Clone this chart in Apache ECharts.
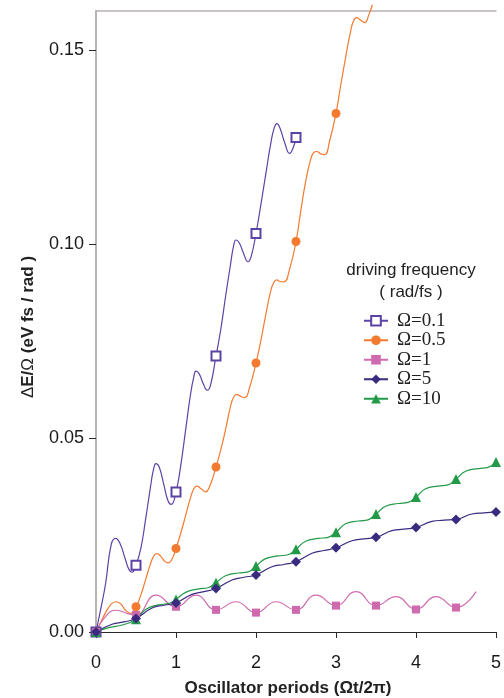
<!DOCTYPE html>
<html><head><meta charset="utf-8">
<script src="https://cdn.jsdelivr.net/npm/echarts@6/dist/echarts.min.js"></script>
<style>html,body{margin:0;padding:0;background:#fff}#c{width:504px;height:698px}</style>
</head><body><div id="c"></div>
<script>
// ---- data ----
const seriesNames = ['Ω=0.1', 'Ω=0.5', 'Ω=1', 'Ω=5', 'Ω=10'];

const xW01 = [0, 0.06, 0.12, 0.19, 0.245, 0.30, 0.36, 0.41, 0.45, 0.5,
  0.56, 0.62, 0.68, 0.72, 0.75, 0.79, 0.85, 0.90, 0.94, 1.0,
  1.06, 1.12, 1.18, 1.22, 1.25, 1.29, 1.34, 1.39, 1.43, 1.5,
  1.56, 1.62, 1.68, 1.72, 1.75, 1.79, 1.84, 1.9, 1.94, 2.0,
  2.06, 2.13, 2.19, 2.23, 2.26, 2.30, 2.36, 2.42, 2.46, 2.5];
const yW01 = [0, 0.0060, 0.0125, 0.0225, 0.0241, 0.0228, 0.0192, 0.0162, 0.0154, 0.0172,
  0.0215, 0.0290, 0.0372, 0.0420, 0.0434, 0.0425, 0.0378, 0.0338, 0.0329, 0.0361,
  0.0430, 0.0520, 0.0610, 0.0655, 0.0672, 0.0665, 0.0640, 0.0623, 0.0635, 0.0711,
  0.0780, 0.0865, 0.0945, 0.0995, 0.1010, 0.1003, 0.0978, 0.0954, 0.0968, 0.1027,
  0.1100, 0.1190, 0.1265, 0.1300, 0.1310, 0.1298, 0.1260, 0.1233, 0.1245, 0.1274];

const xW05 = [0, 0.06, 0.12, 0.19, 0.25, 0.31, 0.37, 0.43, 0.5,
  0.56, 0.62, 0.68, 0.72, 0.76, 0.81, 0.86, 0.9, 0.95, 1.0,
  1.06, 1.12, 1.18, 1.22, 1.26, 1.31, 1.37, 1.42, 1.5,
  1.56, 1.62, 1.68, 1.72, 1.76, 1.81, 1.86, 1.92, 2.0,
  2.06, 2.12, 2.18, 2.22, 2.26, 2.30, 2.35, 2.42, 2.5,
  2.56, 2.62, 2.68, 2.72, 2.76, 2.81, 2.86, 2.92, 3.0,
  3.06, 3.12, 3.18, 3.22, 3.26, 3.31, 3.36, 3.41, 3.455];
const yW05 = [0, 0.0025, 0.0050, 0.0072, 0.0078, 0.0072, 0.0056, 0.0048, 0.0065,
  0.0095, 0.0135, 0.0175, 0.0195, 0.0202, 0.0195, 0.0182, 0.0178, 0.0188, 0.0215,
  0.0255, 0.0300, 0.0345, 0.0368, 0.0376, 0.0370, 0.0361, 0.0375, 0.0425,
  0.0470, 0.0522, 0.0580, 0.0605, 0.0612, 0.0607, 0.0604, 0.0630, 0.0693,
  0.0750, 0.0815, 0.0875, 0.0900, 0.0907, 0.0903, 0.0902, 0.0935, 0.1006,
  0.1085, 0.1160, 0.1215, 0.1235, 0.1238, 0.1232, 0.1230, 0.1265, 0.1336,
  0.1410, 0.1480, 0.1545, 0.1575, 0.1583, 0.1576, 0.1570, 0.1590, 0.1616];

const xW1 = [0, 0.1, 0.25, 0.42, 0.5, 0.75, 1.0, 1.25, 1.5, 1.75, 2.0, 2.25, 2.5, 2.75, 3.0, 3.25, 3.5, 3.75, 4.0, 4.25, 4.5, 4.75];
const yW1 = [0, 0.0035, 0.0056, 0.0046, 0.0044, 0.0095, 0.0065, 0.0095, 0.0057, 0.0078, 0.0050, 0.0078, 0.0057, 0.0095, 0.0068, 0.0104, 0.0068, 0.0091, 0.0058, 0.0091, 0.0063, 0.0104];

const xW5 = [0, 0.2, 0.35, 0.5, 0.7, 0.85, 1.0, 1.2, 1.35, 1.5, 1.7, 1.85, 2.0, 2.2, 2.35, 2.5, 2.7, 2.85, 3.0, 3.2, 3.35, 3.5, 3.7, 3.85, 4.0, 4.2, 4.35, 4.5, 4.7, 4.85, 5.0];
const yW5 = [0, 0.0020, 0.0026, 0.0035, 0.0062, 0.0069, 0.0075, 0.0097, 0.0104, 0.0112, 0.0134, 0.0141, 0.0147, 0.0168, 0.0174, 0.0181, 0.0203, 0.0210, 0.0217, 0.0235, 0.0240, 0.0244, 0.0261, 0.0265, 0.0269, 0.0285, 0.0288, 0.0290, 0.0304, 0.0307, 0.0309];

const xW10 = [0, 0.17, 0.33, 0.5, 0.62, 0.78, 0.9, 1.0, 1.12, 1.28, 1.4, 1.5, 1.62, 1.78, 1.9, 2.0, 2.12, 2.28, 2.4, 2.5, 2.62, 2.78, 2.9, 3.0, 3.12, 3.28, 3.4, 3.5, 3.62, 3.78, 3.9, 4.0, 4.12, 4.28, 4.4, 4.5, 4.62, 4.78, 4.9, 5.0];
const yW10 = [0, 0.0012, 0.0018, 0.0033, 0.0058, 0.0070, 0.0073, 0.0084, 0.0102, 0.0111, 0.0114, 0.0127, 0.0145, 0.0152, 0.0155, 0.0170, 0.0189, 0.0196, 0.0199, 0.0213, 0.0234, 0.0241, 0.0244, 0.0257, 0.0279, 0.0286, 0.0289, 0.0304, 0.0324, 0.0331, 0.0334, 0.0348, 0.0369, 0.0376, 0.0379, 0.0394, 0.0414, 0.0421, 0.0424, 0.0438];

const xTicks = [0, 1, 2, 3, 4, 5];
const yTicks = [0, 0.05, 0.10, 0.15];
const legendTitle = ['driving frequency', '( rad/fs )'];
const xAxisName = 'Oscillator periods (Ωt/2π)';
const yAxisNameParts = ['Δ', 'E/', 'Ω', ' (eV fs / rad )'];

// ---- build ----
function build(xs, ys) {
  return xs.map((x, i) => {
    const marker = Math.abs(x * 2 - Math.round(x * 2)) < 1e-9;
    return marker ? { value: [x, ys[i]] } : { value: [x, ys[i]], symbol: 'none' };
  });
}
function mk(name, xs, ys, color, symbol, size, extra) {
  return Object.assign({
    name: name, type: 'line', data: build(xs, ys), smooth: 0.5,
    showAllSymbol: true, symbol: symbol, symbolSize: size,
    lineStyle: { color: color, width: 1.2 },
    itemStyle: { color: color, borderColor: color, borderWidth: symbol === 'emptyRect' ? 1 : 0 },
    emphasis: { disabled: true }, animation: false
  }, extra || {});
}

const chart = echarts.init(document.getElementById('c'), null, { renderer: 'canvas' });
const sansFont = '"Liberation Sans", Arial, Helvetica, sans-serif';
const yNameRich = '{n|' + yAxisNameParts[0] + '}{b|' + yAxisNameParts[1] + '}{n|' + yAxisNameParts[2] + '}{b|' + yAxisNameParts[3] + '}';
chart.setOption({
  animation: false,
  backgroundColor: '#fff',
  grid: { left: 96, right: 3, top: 11, bottom: 66 },
  xAxis: [{
    type: 'value', min: 0, max: 5, interval: 1,
    axisLine: { show: true, onZero: false, lineStyle: { color: '#2a2a2a', width: 1 } },
    axisTick: { show: true, length: 6, customValues: xTicks, lineStyle: { color: '#2a2a2a' } },
    axisLabel: { customValues: xTicks, fontSize: 18, fontFamily: sansFont, color: '#1a1a1a', margin: 22 },
    splitLine: { show: false }
  }, {
    type: 'value', position: 'top', min: 0, max: 5,
    axisLine: { show: true, onZero: false, lineStyle: { color: '#b9b3b1', width: 1.5 } },
    axisTick: { show: false }, axisLabel: { show: false }, splitLine: { show: false }
  }],
  yAxis: [{
    type: 'value', min: 0, max: 0.16, interval: 0.05,
    axisLine: { show: true, lineStyle: { color: '#2a2a2a', width: 1 } },
    axisTick: { show: true, length: 7, customValues: yTicks, lineStyle: { color: '#2a2a2a' } },
    axisLabel: { customValues: yTicks, formatter: v => v.toFixed(2), fontSize: 18, fontFamily: sansFont, color: '#1a1a1a', margin: 12 },
    splitLine: { show: false }
  }, {
    type: 'value', position: 'right', min: 0, max: 0.16,
    axisLine: { show: true, lineStyle: { color: '#b9b3b1', width: 2 } },
    axisTick: { show: false }, axisLabel: { show: false }, splitLine: { show: false }
  }],
  legend: {
    data: seriesNames, orient: 'vertical', left: 363, top: 311, padding: 0,
    itemWidth: 24, itemHeight: 12, itemGap: 0, selectedMode: false,
    textStyle: { fontFamily: '"Liberation Serif", "Times New Roman", serif', fontSize: 19, lineHeight: 19.5, color: '#222', padding: [0, 0, 0, 4] }
  },
  graphic: [
    { type: 'text', x: 411, y: 270, silent: true, style: { text: legendTitle[0], font: '17px ' + sansFont, fill: '#222', align: 'center', verticalAlign: 'middle', textAlign: 'center', textVerticalAlign: 'middle' } },
    { type: 'text', x: 411, y: 292, silent: true, style: { text: legendTitle[1], font: '17px ' + sansFont, fill: '#222', align: 'center', verticalAlign: 'middle', textAlign: 'center', textVerticalAlign: 'middle' } },
    { type: 'text', x: 288, y: 688, silent: true, style: { text: xAxisName, font: 'bold 17px ' + sansFont, fill: '#222', align: 'center', verticalAlign: 'middle', textAlign: 'center', textVerticalAlign: 'middle' } },
    { type: 'text', x: 28, y: 327, rotation: Math.PI / 2, silent: true, style: {
      text: yNameRich, fill: '#222', align: 'center', verticalAlign: 'middle', textAlign: 'center', textVerticalAlign: 'middle',
      rich: {
        n: { fontFamily: sansFont, fontSize: 17, fontWeight: 'normal', fill: '#222', color: '#222' },
        b: { fontFamily: sansFont, fontSize: 17, fontWeight: 'bold', fill: '#222', color: '#222' }
      } } }
  ],
  series: [
    mk(seriesNames[0], xW01, yW01, '#5d42a6', 'emptyRect', 9),
    mk(seriesNames[1], xW05, yW05, '#f47a30', 'circle', 9, { clip: false }),
    mk(seriesNames[2], xW1, yW1, '#d06aae', 'rect', 8),
    mk(seriesNames[4], xW10, yW10, '#239a47', 'triangle', 10),
    mk(seriesNames[3], xW5, yW5, '#3a2b80', 'diamond', 10)
  ]
});
</script></body></html>
